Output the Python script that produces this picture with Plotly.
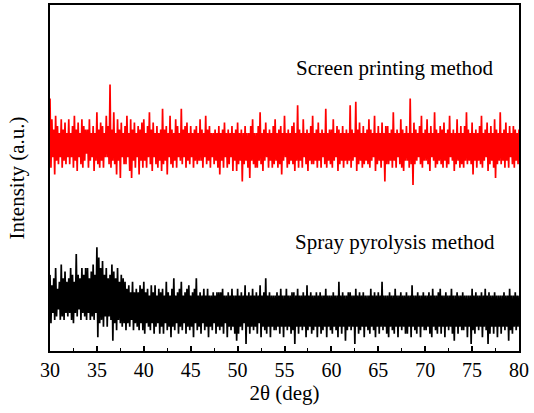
import numpy as np
import plotly.graph_objects as go

screen_printing = [
    73,53,67,56,64,51,68,55,65,54,63,56,67,53,64,55,66,54,63,56,
    67,54,63,56,65,53,68,55,64,52,66,56,63,54,67,53,65,55,64,57,
    64,53,67,55,63,56,65,52,63,55,69,54,64,53,66,55,65,53,63,56,
    68,56,65,54,77,53,64,55,69,54,63,51,67,55,64,50,66,56,63,54,
    65,54,68,56,63,52,67,50,64,55,66,53,63,56,65,51,64,55,66,53,
    67,55,63,53,65,56,69,54,64,52,66,56,63,54,65,53,63,55,64,52,
    70,54,64,55,65,51,63,56,68,54,64,53,63,55,67,53,65,56,63,55,
    70,54,64,56,65,53,66,55,63,54,65,56,63,53,64,55,65,54,63,55,
    67,55,64,53,63,56,68,54,64,55,65,53,63,56,63,54,64,55,63,53,
    65,51,63,55,64,53,66,56,63,53,64,54,63,56,65,52,63,55,64,52,
    66,54,63,55,64,49,63,54,65,55,63,53,63,50,65,55,67,54,63,53,
    63,53,65,55,69,54,63,52,64,55,66,56,63,53,64,55,63,53,65,54,
    67,55,63,53,64,54,65,51,63,55,68,56,63,53,64,54,63,55,65,54,
    66,52,63,55,71,53,64,55,63,53,67,56,63,54,64,52,63,55,65,54,
    68,54,63,55,64,53,66,55,63,53,64,56,63,54,70,53,63,55,64,54,
    64,53,67,55,63,56,65,52,64,54,63,55,65,53,63,55,64,54,63,55,
    71,53,64,55,63,56,72,52,64,54,66,55,63,53,65,54,63,55,64,54,
    67,53,64,55,63,56,68,52,63,54,65,55,63,53,66,55,63,49,65,54,
    65,54,63,55,64,53,69,55,63,53,64,56,63,54,67,53,64,52,63,55,
    65,55,63,53,73,54,63,48,66,54,64,55,63,56,65,54,68,53,63,55,
    64,55,67,54,63,52,65,56,63,55,69,53,64,54,63,55,65,54,64,53,
    66,55,63,53,64,54,68,56,63,55,64,52,63,54,67,55,63,53,65,54,
    63,53,65,55,69,54,64,55,63,54,66,51,63,55,64,53,63,55,65,54,
    68,53,63,55,64,56,66,52,63,54,65,55,63,53,67,50,64,54,63,55,
    69,54,63,55,64,53,66,55,63,53,65,56,63,54,65,53,64,55,63,54,
    64,
]

spray_pyrolysis = [
    22,8,19,11,21,9,24,10,18,12,20,9,25,10,21,9,23,11,20,10,
    21,11,24,9,22,8,20,11,28,10,22,12,21,9,24,11,22,10,24,9,
    24,11,21,9,23,10,25,9,22,11,30,4,27,8,24,9,26,7,22,10,
    24,7,21,10,22,9,25,3,23,8,21,6,24,9,20,8,22,7,21,8,
    20,6,18,8,19,7,17,9,20,6,17,8,18,7,17,6,19,8,18,6,
    20,5,17,8,18,7,16,6,19,8,17,5,19,7,16,8,18,5,17,7,
    18,5,16,8,20,6,17,7,16,4,18,7,21,6,16,8,17,5,18,7,
    20,6,16,8,17,5,18,7,19,6,16,7,17,4,18,8,21,6,16,7,
    17,5,16,8,18,6,16,7,18,4,16,7,16,6,17,8,16,5,17,7,
    17,6,17,7,18,5,16,8,16,4,17,7,16,6,18,7,16,5,16,3,
    18,5,16,7,17,6,16,8,19,2,16,7,17,5,16,7,18,6,16,7,
    17,5,16,8,19,4,16,7,17,6,21,5,16,7,17,4,16,7,16,6,
    16,6,17,7,16,5,18,7,16,4,16,7,18,6,16,7,16,5,17,6,
    17,2,16,7,18,5,16,7,16,6,17,7,16,4,19,6,16,7,17,5,
    16,6,16,7,17,4,16,7,17,5,16,6,16,7,18,4,16,7,16,6,
    16,5,17,7,16,6,16,4,20,7,16,5,17,7,16,3,16,6,17,7,
    17,6,16,7,16,2,18,7,16,5,17,6,16,7,17,4,16,7,16,6,
    16,5,18,7,16,6,17,4,16,7,17,5,16,7,20,6,16,7,16,5,
    16,4,17,7,16,6,16,5,18,7,16,4,16,7,17,6,16,7,16,5,
    17,5,16,7,16,4,19,7,16,6,16,5,17,7,16,4,16,7,17,6,
    16,6,16,7,17,5,16,4,18,7,16,6,16,5,17,7,18,5,16,7,
    16,4,17,7,16,6,16,7,18,5,16,3,16,7,17,5,16,7,16,6,
    17,6,16,7,16,4,16,7,16,2,18,6,16,5,17,7,16,6,16,7,
    17,4,16,7,18,6,16,2,17,5,16,7,16,5,17,7,16,4,16,7,
    16,5,16,7,17,6,16,7,16,3,18,6,16,5,16,7,17,6,16,7,
    16,
]

theta_red = np.linspace(30, 80, len(screen_printing))
theta_black = np.linspace(30, 80, len(spray_pyrolysis))

labels = ["Screen printing method", "Spray pyrolysis method"]
x_ticks = [30, 35, 40, 45, 50, 55, 60, 65, 70, 75, 80]

font = "Liberation Serif, Times New Roman, serif"

fig = go.Figure()
fig.add_trace(go.Scatter(x=theta_red, y=screen_printing, mode="lines",
                         line=dict(color="#ff0000", width=1.7), showlegend=False))
fig.add_trace(go.Scatter(x=theta_black, y=spray_pyrolysis, mode="lines",
                         line=dict(color="#000000", width=1.7), showlegend=False))

fig.add_annotation(x=66.8, y=81.8, text=labels[0], showarrow=False,
                   font=dict(family=font, size=21, color="black"))
fig.add_annotation(x=66.8, y=31.5, text=labels[1], showarrow=False,
                   font=dict(family=font, size=21, color="black"))

fig.update_layout(
    width=534, height=413,
    margin=dict(l=50, r=15, t=5, b=62),
    paper_bgcolor="white", plot_bgcolor="white",
    font=dict(family=font, color="black"),
    xaxis=dict(range=[30, 80], tickvals=x_ticks, ticktext=[str(v) for v in x_ticks],
               ticks="inside", ticklen=5, tickwidth=1.5, tickcolor="black",
               minor=dict(dtick=2.5, tick0=30, ticks="inside", ticklen=3, tickcolor="black", tickwidth=1.2),
               showline=True, linecolor="black", linewidth=2, mirror=True,
               showgrid=False, zeroline=False, automargin=False,
               tickfont=dict(family=font, size=20),
               title=dict(text="2θ (deg)", font=dict(family=font, size=21), standoff=2)),
    yaxis=dict(range=[0, 100], showticklabels=False, ticks="",
               showline=True, linecolor="black", linewidth=2, mirror=True,
               showgrid=False, zeroline=False, automargin=False,
               title=dict(text="Intensity (a.u.)", font=dict(family=font, size=21), standoff=18)),
)

fig.write_html("out.html", config={"displayModeBar": False},
               post_script="document.body.style.margin='0';")
